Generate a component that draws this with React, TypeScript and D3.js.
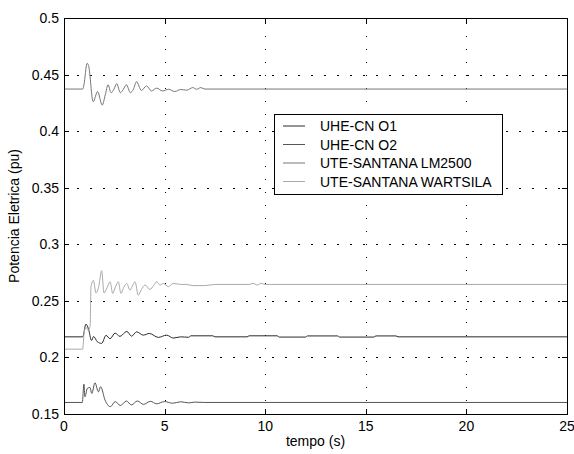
import React, { useEffect, useRef } from "react";
import * as d3 from "d3";

// series (time in s, power in pu)
const tO1 = [0, 0.93, 1.09, 1.21, 1.37, 1.47, 1.66, 1.87, 2.09, 2.29, 2.54, 2.78, 3.12, 3.36, 3.61, 3.94, 4.24, 4.69, 5.1, 5.43, 5.8, 6.2, 6.3, 7.4, 7.5, 9.1, 9.2, 10.6, 10.7, 12.0, 12.1, 13.6, 13.7, 15.4, 15.5, 16.5, 16.6, 25];
const vO1 = [0.2182, 0.2182, 0.2294, 0.2256, 0.215, 0.2185, 0.2138, 0.2124, 0.2195, 0.2165, 0.2215, 0.2186, 0.223, 0.2188, 0.2226, 0.2197, 0.2212, 0.2177, 0.2197, 0.2171, 0.2182, 0.2178, 0.2191, 0.2191, 0.2182, 0.2182, 0.2191, 0.2191, 0.218, 0.218, 0.219, 0.219, 0.218, 0.218, 0.219, 0.219, 0.2182, 0.2182];

const tO2 = [0, 0.91, 0.99, 1.04, 1.16, 1.29, 1.38, 1.54, 1.71, 1.82, 2.04, 2.3, 2.55, 2.8, 3.1, 3.35, 3.65, 3.95, 4.3, 4.6, 5.0, 5.4, 5.8, 6.2, 6.5, 7.0, 25];
const vO2 = [0.1602, 0.1602, 0.1764, 0.1652, 0.1726, 0.1735, 0.1682, 0.1776, 0.1696, 0.1741, 0.1623, 0.1565, 0.161, 0.1575, 0.1615, 0.158, 0.1615, 0.1585, 0.1612, 0.159, 0.161, 0.1595, 0.1608, 0.1598, 0.1605, 0.1602, 0.1602];

const tLM = [0, 0.93, 0.99, 1.15, 1.22, 1.45, 1.67, 1.9, 2.05, 2.19, 2.34, 2.48, 2.62, 2.8, 2.95, 3.1, 3.3, 3.45, 3.6, 3.85, 4.1, 4.35, 4.6, 4.9, 5.2, 5.5, 5.8, 6.1, 6.4, 6.6, 6.8, 7.0, 25];
const vLM = [0.4372, 0.4372, 0.441, 0.46, 0.458, 0.426, 0.435, 0.423, 0.432, 0.441, 0.434, 0.437, 0.442, 0.434, 0.437, 0.441, 0.434, 0.437, 0.4437, 0.436, 0.44, 0.4355, 0.438, 0.4355, 0.437, 0.435, 0.4368, 0.4362, 0.4385, 0.437, 0.4385, 0.4372, 0.4372];

const tWA = [0, 0.93, 1.0, 1.1, 1.2, 1.3, 1.34, 1.46, 1.59, 1.72, 1.87, 1.99, 2.15, 2.29, 2.42, 2.55, 2.7, 2.83, 2.97, 3.12, 3.28, 3.4, 3.53, 3.69, 3.85, 4.03, 4.27, 4.45, 4.61, 4.77, 4.94, 5.19, 5.43, 5.8, 6.1, 6.4, 7.0, 7.5, 9.2, 9.4, 9.6, 9.8, 10.0, 10.2, 25];
const vWA = [0.2073, 0.2073, 0.222, 0.2265, 0.224, 0.228, 0.262, 0.268, 0.257, 0.262, 0.2766, 0.257, 0.262, 0.2669, 0.2566, 0.262, 0.2669, 0.2566, 0.262, 0.2654, 0.2595, 0.263, 0.2669, 0.2551, 0.26, 0.264, 0.26, 0.2635, 0.2669, 0.264, 0.2654, 0.2625, 0.2654, 0.2645, 0.2645, 0.2635, 0.2635, 0.2645, 0.2645, 0.2655, 0.264, 0.2655, 0.2645, 0.2645, 0.2645];

const names = ["UHE-CN O1", "UHE-CN O2", "UTE-SANTANA LM2500", "UTE-SANTANA WARTSILA"];
const colors = ["#2a2a2a", "#555555", "#777777", "#aaaaaa"];
const xTicks = [0, 5, 10, 15, 20, 25];
const yTicks = [0.15, 0.2, 0.25, 0.3, 0.35, 0.4, 0.45, 0.5];

export default function App() {
  const ref = useRef<SVGSVGElement>(null);

  useEffect(() => {
    const svg = d3.select(ref.current);
    svg.selectAll("*").remove();

    const left = 64, right = 567, top = 18, bottom = 414;
    const font = "Liberation Sans, Arial, sans-serif";
    const fs = 14;

    const x = d3.scaleLinear().domain([0, 25]).range([left, right]);
    const y = d3.scaleLinear().domain([0.15, 0.5]).range([bottom, top]);

    svg.append("rect").attr("width", 574).attr("height", 454).attr("fill", "#fff");

    // dotted grid
    const grid = svg.append("g").attr("stroke", "#000").attr("stroke-width", 1)
      .attr("stroke-dasharray", "1.5 11.5").attr("shape-rendering", "crispEdges");
    grid.selectAll(".gx").data(xTicks.slice(1, -1)).join("line")
      .attr("x1", d => Math.round(x(d)) + 0.5).attr("x2", d => Math.round(x(d)) + 0.5)
      .attr("y1", bottom).attr("y2", top);
    grid.selectAll(".gy").data(yTicks.slice(1, -1)).join("line")
      .attr("y1", d => Math.round(y(d)) + 0.5).attr("y2", d => Math.round(y(d)) + 0.5)
      .attr("x1", left).attr("x2", right);

    // lines
    const line = d3.line<[number, number]>()
      .x(d => x(d[0])).y(d => y(d[1])).curve(d3.curveMonotoneX);
    const series = [
      { t: tO1, v: vO1 },
      { t: tO2, v: vO2 },
      { t: tLM, v: vLM },
      { t: tWA, v: vWA },
    ];
    series.forEach((s, i) => {
      const pts = s.t.map((t, j) => [t, s.v[j]] as [number, number]);
      svg.append("path").attr("d", line(pts)).attr("fill", "none")
        .attr("stroke", colors[i]).attr("stroke-width", 1);
    });

    // axes box with inward ticks on all sides
    const ax = svg.append("g").attr("stroke", "#000").attr("shape-rendering", "crispEdges");
    ax.append("rect").attr("x", left + 0.5).attr("y", top + 0.5)
      .attr("width", right - left).attr("height", bottom - top).attr("fill", "none");
    xTicks.forEach(d => {
      const px = Math.round(x(d)) + 0.5;
      ax.append("line").attr("x1", px).attr("x2", px).attr("y1", bottom).attr("y2", bottom - 5);
      ax.append("line").attr("x1", px).attr("x2", px).attr("y1", top).attr("y2", top + 5);
    });
    yTicks.forEach(d => {
      const py = Math.round(y(d)) + 0.5;
      ax.append("line").attr("x1", left).attr("x2", left + 5).attr("y1", py).attr("y2", py);
      ax.append("line").attr("x1", right).attr("x2", right - 5).attr("y1", py).attr("y2", py);
    });

    svg.selectAll(".xl").data(xTicks).join("text")
      .attr("x", d => x(d)).attr("y", bottom + 17).attr("text-anchor", "middle")
      .attr("font-family", font).attr("font-size", fs).text(d => String(d));
    svg.selectAll(".yl").data(yTicks).join("text")
      .attr("x", left - 5).attr("y", d => y(d) + 5).attr("text-anchor", "end")
      .attr("font-family", font).attr("font-size", fs).text(d => String(d));

    svg.append("text").attr("x", (left + right) / 2).attr("y", 446)
      .attr("text-anchor", "middle").attr("font-family", font).attr("font-size", fs)
      .text("tempo (s)");
    svg.append("text").attr("transform", `translate(19, ${(top + bottom) / 2}) rotate(-90)`)
      .attr("text-anchor", "middle").attr("font-family", font).attr("font-size", fs)
      .text("Potencia Eletrica (pu)");

    // legend
    const lx = 274, ly = 114, lw = 228, lh = 80;
    const lg = svg.append("g");
    lg.append("rect").attr("x", lx + 0.5).attr("y", ly + 0.5).attr("width", lw).attr("height", lh)
      .attr("fill", "#fff").attr("stroke", "#000").attr("shape-rendering", "crispEdges");
    names.forEach((n, i) => {
      const ry = ly + 12 + i * 18.5;
      lg.append("line").attr("x1", lx + 9).attr("x2", lx + 31).attr("y1", ry).attr("y2", ry)
        .attr("stroke", colors[i]).attr("stroke-width", 1);
      lg.append("text").attr("x", lx + 46).attr("y", ry + 5).attr("font-family", font)
        .attr("font-size", fs).text(n);
    });
  }, []);

  return (
    <svg ref={ref} width={574} height={454}
      style={{ position: "absolute", left: 0, top: 0 }} />
  );
}
